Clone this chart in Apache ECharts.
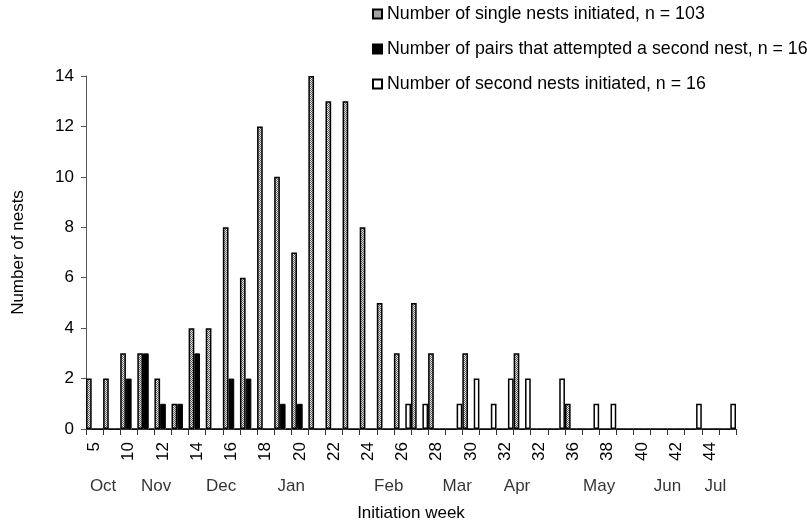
<!DOCTYPE html>
<html>
<head>
<meta charset="utf-8">
<script src="https://cdn.jsdelivr.net/npm/echarts@6/dist/echarts.min.js"></script>
<style>
  html, body { margin: 0; padding: 0; background: #fff; }
  #chart { width: 807px; height: 527px; }
</style>
</head>
<body>
<div id="chart"></div>
<script>
// Week tick labels (one label every second week slot, as printed on the axis)
const weekLabels = ['5','','10','','12','','14','','16','','18','','20','','22','','24','','26','',
                    '28','','30','','32','','32','','36','','38','','40','','42','','44',''];

// Nests per initiation week
const singleNests = [2,2,3,3,2,1,4,4,8,6,12,10,7,14,13,13,8,5,3,5,3,0,3,0,0,3,0,0,1,0,0,0,0,0,0,0,0,0];
const pairsSecond = [0,0,2,3,1,1,3,0,2,2,0,1,1,0,0,0,0,0,0,0,0,0,0,0,0,0,0,0,0,0,0,0,0,0,0,0,0,0];
const secondNests = [0,0,0,0,0,0,0,0,0,0,0,0,0,0,0,0,0,0,1,1,0,1,2,1,2,2,0,2,0,1,1,0,0,0,0,1,0,1];

// Month names and where they sit along the week axis (in week-slot units)
const monthNames = ['Oct','Nov','Dec','Jan','Feb','Mar','Apr','May','Jun','Jul'];
const monthPos   = [1, 4.1, 7.9, 12, 17.7, 21.7, 25.2, 30, 34, 36.8];

const seriesNames = [
  'Number of single nests initiated, n = 103',
  'Number of pairs that attempted a second nest, n = 16',
  'Number of second nests initiated, n = 16'
];

// Fine stipple fill for the single-nest bars
function stipple() {
  const c = document.createElement('canvas');
  c.width = 2; c.height = 2;
  const g = c.getContext('2d');
  g.fillStyle = '#e8e8e8'; g.fillRect(0, 0, 2, 2);
  g.fillStyle = '#5e5e5e'; g.fillRect(0, 0, 1, 1); g.fillRect(1, 1, 1, 1);
  return c;
}

const font = 'Liberation Sans, Arial, sans-serif';
const fs = 17;
const chart = echarts.init(document.getElementById('chart'), null, { renderer: 'canvas' });

chart.setOption({
  animation: false,
  backgroundColor: '#fff',
  textStyle: { fontFamily: font, color: '#000' },
  legend: {
    orient: 'vertical',
    left: 367, top: 0,
    itemWidth: 9, itemHeight: 9,
    itemGap: 17,
    icon: 'rect',
    textStyle: { fontFamily: font, fontSize: 17.8, color: '#000', lineHeight: 18 },
    data: seriesNames
  },
  grid: { left: 86, right: 71, top: 76, bottom: 98 },
  xAxis: [{
    type: 'category',
    data: weekLabels,
    boundaryGap: true,
    name: 'Initiation week',
    nameLocation: 'middle',
    nameGap: 76,
    nameTextStyle: { fontFamily: font, fontSize: fs, color: '#000' },
    axisLine: { lineStyle: { color: '#333', width: 1 } },
    axisTick: { show: true, interval: 0, length: 6, lineStyle: { color: '#333' } },
    axisLabel: { interval: 0, rotate: 90, margin: 13, fontSize: fs, color: '#000', fontFamily: font }
  }, {
    type: 'value',
    min: 0, max: 38,
    show: false
  }],
  yAxis: {
    type: 'value',
    min: 0, max: 14, interval: 2,
    name: 'Number of nests',
    nameLocation: 'middle',
    nameGap: 59,
    nameTextStyle: { fontFamily: font, fontSize: fs, color: '#000' },
    axisLine: { show: true, lineStyle: { color: '#555', width: 1 } },
    axisTick: { show: true, length: 5, lineStyle: { color: '#555' } },
    axisLabel: { fontSize: fs, color: '#000', margin: 12, fontFamily: font },
    splitLine: { show: false }
  },
  series: [{
    name: seriesNames[0],
    type: 'bar',
    data: singleNests,
    barGap: '0%',
    barCategoryGap: '0%',
    itemStyle: { color: { image: stipple(), repeat: 'repeat' }, borderColor: '#000', borderWidth: 1.5 }
  }, {
    name: seriesNames[1],
    type: 'bar',
    data: pairsSecond,
    barGap: '0%',
    barCategoryGap: '0%',
    itemStyle: { color: '#000', borderColor: '#000', borderWidth: 1 }
  }, {
    name: seriesNames[2],
    type: 'bar',
    data: secondNests,
    barGap: '0%',
    barCategoryGap: '0%',
    itemStyle: { color: '#fff', borderColor: '#000', borderWidth: 1.5 }
  }, {
    // Month names placed along the week axis
    type: 'scatter',
    xAxisIndex: 1,
    symbolSize: 0,
    clip: false,
    silent: true,
    data: monthNames.map((m, i) => ({ name: m, value: [monthPos[i], 0] })),
    label: {
      show: true,
      position: 'inside',
      offset: [0, 57],
      formatter: p => p.name,
      fontSize: fs, color: '#000', fontFamily: font
    }
  }]
});
</script>
</body>
</html>
